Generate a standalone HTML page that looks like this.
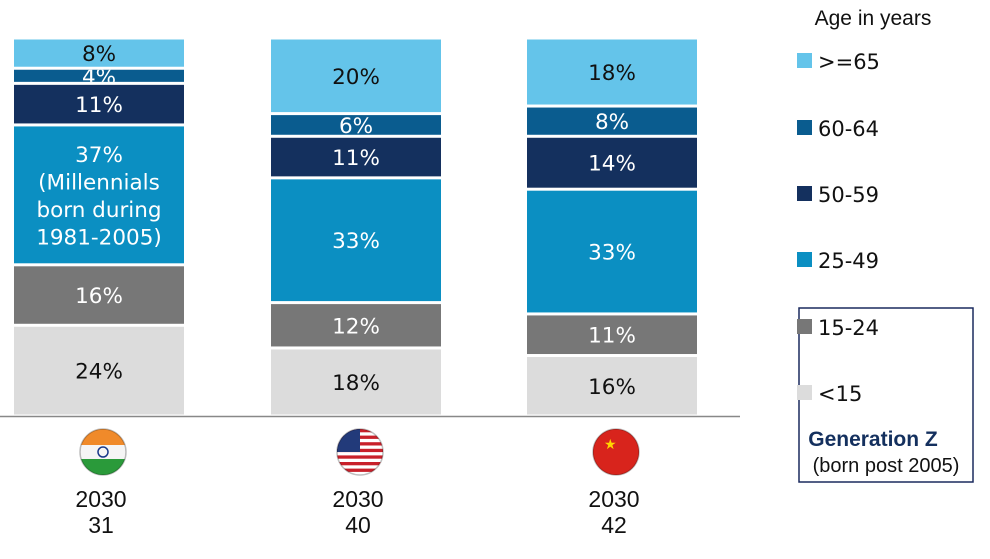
<!DOCTYPE html>
<html><head><meta charset="utf-8"><style>
body{margin:0;background:#fff;width:990px;height:554px;overflow:hidden}
svg{font-family:"DejaVu Sans","Liberation Sans",sans-serif}
</style></head><body>
<svg id="c" width="990" height="554">
<line x1="0" y1="416.5" x2="740" y2="416.5" stroke="#888" stroke-width="1.5"/>
<g>
<text x="873" y="25" font-family="Liberation Sans,sans-serif" font-size="21" text-anchor="middle" fill="#111">Age in years</text>
<rect x="799" y="308" width="174" height="174" fill="none" stroke="#1a2a5e" stroke-width="1.5"/>
<text x="873" y="446" font-family="Liberation Sans,sans-serif" font-size="21" font-weight="bold" text-anchor="middle" fill="#14305e">Generation  Z</text>
<text x="886" y="472" font-family="Liberation Sans,sans-serif" font-size="20" text-anchor="middle" fill="#111">(born post 2005)</text>
</g>
</svg>
<script>
const categories=["India","USA","China"];
const years=["2030","2030","2030"];
const medianAges=["31","40","42"];
const ageGroups=[">=65","60-64","50-59","25-49","15-24","<15"];
const share65=[8,20,18];
const share6064=[4,6,8];
const share5059=[11,11,14];
const share2549=[37,33,33];
const share1524=[16,12,11];
const shareU15=[24,18,16];
const colors=["#64c4ea","#0a5c8f","#14305e","#0b8fc2","#777777","#dcdcdc"];
const textColors=["#111","#fff","#fff","#fff","#fff","#111"];
const NS="http://www.w3.org/2000/svg";
const svg=document.getElementById('c');
const series=[share65,share6064,share5059,share2549,share1524,shareU15];
const top0=38,base=416,plotH=base-top0,barW=170;
const x0=[14,271,527];
function y(v){return base-v/100*plotH;}
function mk(t,a,p){const e=document.createElementNS(NS,t);for(const k in a)e.setAttribute(k,a[k]);(p||svg).appendChild(e);return e;}
const defs=mk('defs',{});
categories.forEach((c,i)=>{
  const g=mk('g',{});
  
  
  let cum=0;
  for(let s=series.length-1;s>=0;s--){
    const v=series[s][i];
    const yb=y(cum), yt=y(cum+v);cum+=v;
    const id='cl'+i+'_'+s;
    const cp=mk('clipPath',{id:id},defs);
    mk('rect',{x:x0[i],y:yt+1.5,width:barW,height:Math.max(0,yb-yt-3)},cp);
    const r=mk('rect',{x:x0[i],y:yt+1.5,width:barW,height:Math.max(0,yb-yt-3),fill:colors[s]},g);
    
    
    const t=mk('text',{x:x0[i]+barW/2,'text-anchor':'middle','font-size':21.5,fill:textColors[s],'clip-path':'url(#'+id+')'},g);
    
    
    const cy=(yt+yb)/2;
    if(c==="India"&&s===3){
      const lines=[v+'%','(Millennials','born during','1981-2005)'];
      lines.forEach((l,k)=>{const ts=mk('tspan',{x:x0[i]+barW/2,y:cy-33+k*27.5},t);ts.textContent=l;});
    } else {t.setAttribute('y',cy+8);t.textContent=v+'%';}
  }
  const cx=x0[i]+89;
  const fg=mk('g',{},svg);
  
  
  const fid='fc'+i;const fcp=mk('clipPath',{id:fid},defs);mk('circle',{cx:cx,cy:452,r:23},fcp);
  const fl=mk('g',{'clip-path':'url(#'+fid+')'},fg);
  if(i===0){mk('rect',{x:cx-23,y:429,width:46,height:16,fill:'#f08a2a'},fl);mk('rect',{x:cx-23,y:445,width:46,height:15,fill:'#f5f5f5'},fl);mk('rect',{x:cx-23,y:459,width:46,height:17,fill:'#2a9a3a'},fl);mk('circle',{cx:cx,cy:452,r:5,fill:'none',stroke:'#1a3a8a','stroke-width':1.5},fl);}
  if(i===1){for(let k=0;k<7;k++)mk('rect',{x:cx-23,y:429+k*6.6,width:46,height:3.3,fill:'#c8202a'},fl);mk('rect',{x:cx-23,y:429,width:23,height:23,fill:'#223a7a'},fl);}
  if(i===2){mk('rect',{x:cx-23,y:429,width:46,height:46,fill:'#d8241c'},fl);mk('text',{x:cx-12,y:449,'font-size':14,fill:'#ffd700'},fl).textContent='★';}
  mk('circle',{cx:cx,cy:452,r:23,fill:'none',stroke:'rgba(0,0,0,0.25)','stroke-width':1.5},fg);
  const yl=mk('text',{x:cx-2,y:507,'text-anchor':'middle','font-family':'Liberation Sans,sans-serif','font-size':23,fill:'#111'});
  
  
  yl.textContent=years[i];
  const ml=mk('text',{x:cx-2,y:533,'text-anchor':'middle','font-family':'Liberation Sans,sans-serif','font-size':23,fill:'#111'});
  
  
  ml.textContent=medianAges[i];
});
const legY=[61,128,194,260,327,393];
ageGroups.forEach((a,k)=>{
  const r=mk('rect',{x:797,y:legY[k]-8,width:15,height:15,fill:colors[k]});
  
  
  const t=mk('text',{x:818,y:legY[k]+8,'font-size':21,fill:'#111'});
  
  
  t.textContent=a;
});
</script>
</body></html>
